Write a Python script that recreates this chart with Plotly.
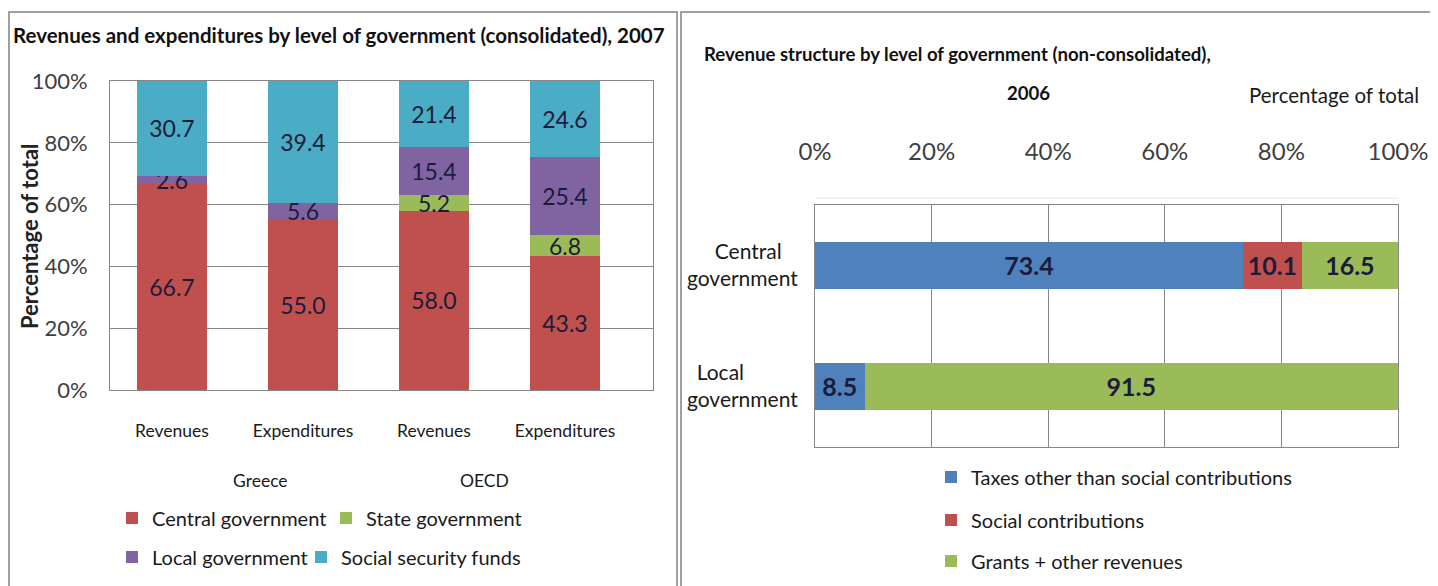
import plotly.graph_objects as go

# ---------------- data ----------------
left_categories = ["Revenues", "Expenditures", "Revenues", "Expenditures"]
left_groups = ["Greece", "OECD"]
central_gov = [66.7, 55.0, 58.0, 43.3]
state_gov = [None, None, 5.2, 6.8]
local_gov = [2.6, 5.6, 15.4, 25.4]
social_sec = [30.7, 39.4, 21.4, 24.6]
left_ticks = [0, 20, 40, 60, 80, 100]

right_categories = ["Central government", "Local government"]
taxes = [73.4, 8.5]
social_contrib = [10.1, None]
grants = [16.5, 91.5]
right_ticks = [0, 20, 40, 60, 80, 100]

# ---------------- style ----------------
W, H = 1438, 586
OFF = 8  # page body margin
FONT = "Lato, Roboto, Liberation Sans, sans-serif"
RED, GREEN, PURPLE, CYAN, BLUE = "#C0504D", "#9BBB59", "#8064A2", "#4BACC6", "#4F81BD"
LBL = "#1c1c3a"
GRID = "#868686"
NB = "&nbsp;"

def px_x(p):
    return (p - OFF) / W

def px_y(p):
    return 1 - (p - OFF) / H

# display text for the right-hand category labels (two lines, Excel-like alignment)
right_ticktext = ["Central" + NB * 3 + "<br>government", "Local" + NB * 10 + "<br>government"]

fig = go.Figure()
xidx = list(range(len(left_categories)))

left_series = [
    ("Central government", central_gov, RED, "legend"),
    ("State government", state_gov, GREEN, "legend2"),
    ("Local government", local_gov, PURPLE, "legend3"),
    ("Social security funds", social_sec, CYAN, "legend4"),
]
for name, vals, col, lg in left_series:
    fig.add_trace(go.Bar(
        x=xidx, y=vals, name=name, marker=dict(color=col, line=dict(width=0)),
        width=0.535, text=[("%.1f" % v) if v is not None else "" for v in vals],
        textposition="inside", insidetextanchor="middle", textangle=0,
        constraintext="none", cliponaxis=False,
        textfont=dict(family=FONT, size=23, color=LBL),
        xaxis="x", yaxis="y", legend=lg,
    ))

right_series = [
    ("Taxes other than social contributions", taxes, BLUE, "legend5"),
    ("Social contributions", social_contrib, RED, "legend6"),
    ("Grants + other revenues", grants, GREEN, "legend7"),
]
for name, vals, col, lg in right_series:
    fig.add_trace(go.Bar(
        y=right_categories, x=vals, name=name, orientation="h",
        marker=dict(color=col, line=dict(width=0)), width=0.39,
        text=[("%.1f" % v) if v is not None else "" for v in vals],
        textposition="inside", insidetextanchor="middle", textangle=0,
        constraintext="none", cliponaxis=False,
        textfont=dict(family=FONT, size=25, color=LBL, weight="bold"),
        xaxis="x2", yaxis="y2", legend=lg,
    ))

fig.update_layout(
    width=W, height=H, margin=dict(l=0, r=0, t=0, b=0, autoexpand=False),
    paper_bgcolor="white", plot_bgcolor="white", barmode="stack",
    font=dict(family=FONT, color="#222222"),
    xaxis=dict(
        domain=[px_x(110), px_x(653)], range=[-0.473, 3.672], automargin=False,
        tickvals=xidx, ticktext=left_categories, showgrid=False,
        showline=True, linecolor=GRID, linewidth=1, mirror=True,
        ticks="", ticklabelstandoff=25,
        tickfont=dict(family=FONT, size=17.5, color="#1a1a1a"), zeroline=False,
    ),
    yaxis=dict(
        domain=[px_y(390), px_y(80.7)], range=[0, 100.1], automargin=False,
        tickvals=left_ticks, ticktext=["%d%%" % t for t in left_ticks],
        showgrid=True, gridcolor=GRID, gridwidth=1,
        showline=True, linecolor=GRID, linewidth=1, mirror=True,
        ticks="", ticklabelstandoff=17,
        tickfont=dict(family=FONT, size=22, color="#404040"), zeroline=False,
    ),
    xaxis2=dict(
        domain=[px_x(815), px_x(1398)], range=[0, 100], anchor="y2", side="top",
        automargin=False,
        tickvals=right_ticks, ticktext=["%d%%" % t for t in right_ticks],
        showgrid=True, gridcolor=GRID, gridwidth=1,
        showline=True, linecolor=GRID, linewidth=1, mirror=True,
        ticks="", ticklabelstandoff=34,
        tickfont=dict(family=FONT, size=24, color="#404040"), zeroline=False,
    ),
    yaxis2=dict(
        domain=[px_y(446.7), px_y(205)], anchor="x2", automargin=False,
        categoryorder="array", categoryarray=right_categories,
        tickvals=right_categories, ticktext=right_ticktext,
        range=[1.5, -0.5], showgrid=False,
        showline=True, linecolor=GRID, linewidth=1, mirror=True,
        ticks="", ticklabelstandoff=12,
        tickfont=dict(family=FONT, size=21, color="#1a1a1a"),
    ),
    showlegend=True,
)

leg_common = dict(font=dict(family=FONT, size=20, color="#1a1a1a"), bgcolor="rgba(0,0,0,0)",
                  borderwidth=0, xanchor="left", yanchor="middle", itemwidth=30)
legend_pos = {
    "legend": (112, 518), "legend2": (326, 518),
    "legend3": (112, 557), "legend4": (301, 557),
    "legend5": (931, 477), "legend6": (931, 520), "legend7": (931, 561),
}
for lg, (lx, ly) in legend_pos.items():
    fig.update_layout({lg: dict(x=px_x(lx), y=px_y(ly), **leg_common)})

ann = [
    dict(text="Revenues and expenditures by level of government (consolidated), 2007",
         x=px_x(11), y=px_y(35), xanchor="left", yanchor="middle",
         font=dict(family=FONT, size=20.5, color="#111111", weight="bold")),
    dict(text="Percentage of total", x=px_x(29), y=px_y(236), xanchor="center", yanchor="middle",
         textangle=-90, font=dict(family=FONT, size=22, color="#222222", weight="bold")),
    dict(text=left_groups[0], x=px_x(260), y=px_y(480), xanchor="center", yanchor="middle",
         font=dict(family=FONT, size=17.5, color="#1a1a1a")),
    dict(text=left_groups[1], x=px_x(485), y=px_y(480), xanchor="center", yanchor="middle",
         font=dict(family=FONT, size=17.5, color="#1a1a1a")),
    dict(text="Revenue structure by level of government (non-consolidated),",
         x=px_x(702), y=px_y(54), xanchor="left", yanchor="middle",
         font=dict(family=FONT, size=18.6, color="#111111", weight="bold")),
    dict(text="2006", x=px_x(1028), y=px_y(93), xanchor="center", yanchor="middle",
         font=dict(family=FONT, size=18.6, color="#111111", weight="bold")),
    dict(text="Percentage of total", x=px_x(1421), y=px_y(95), xanchor="right", yanchor="middle",
         font=dict(family=FONT, size=20.5, color="#1a1a1a")),
]
for a in ann:
    a.update(xref="paper", yref="paper", showarrow=False)
fig.update_layout(annotations=ann)

fig.update_layout(shapes=[
    dict(type="rect", xref="paper", yref="paper", x0=px_x(9), x1=px_x(677), y0=px_y(600), y1=px_y(12),
         line=dict(color="#a0a0a0", width=2), layer="below"),
    dict(type="rect", xref="paper", yref="paper", x0=px_x(681), x1=px_x(1450), y0=px_y(600), y1=px_y(12),
         line=dict(color="#a0a0a0", width=2), layer="below"),
    dict(type="line", xref="paper", yref="paper", x0=px_x(815), x1=px_x(1398), y0=px_y(198), y1=px_y(198),
         line=dict(color="#e8e8e8", width=1), layer="below"),
])

fig.write_html("out.html")
